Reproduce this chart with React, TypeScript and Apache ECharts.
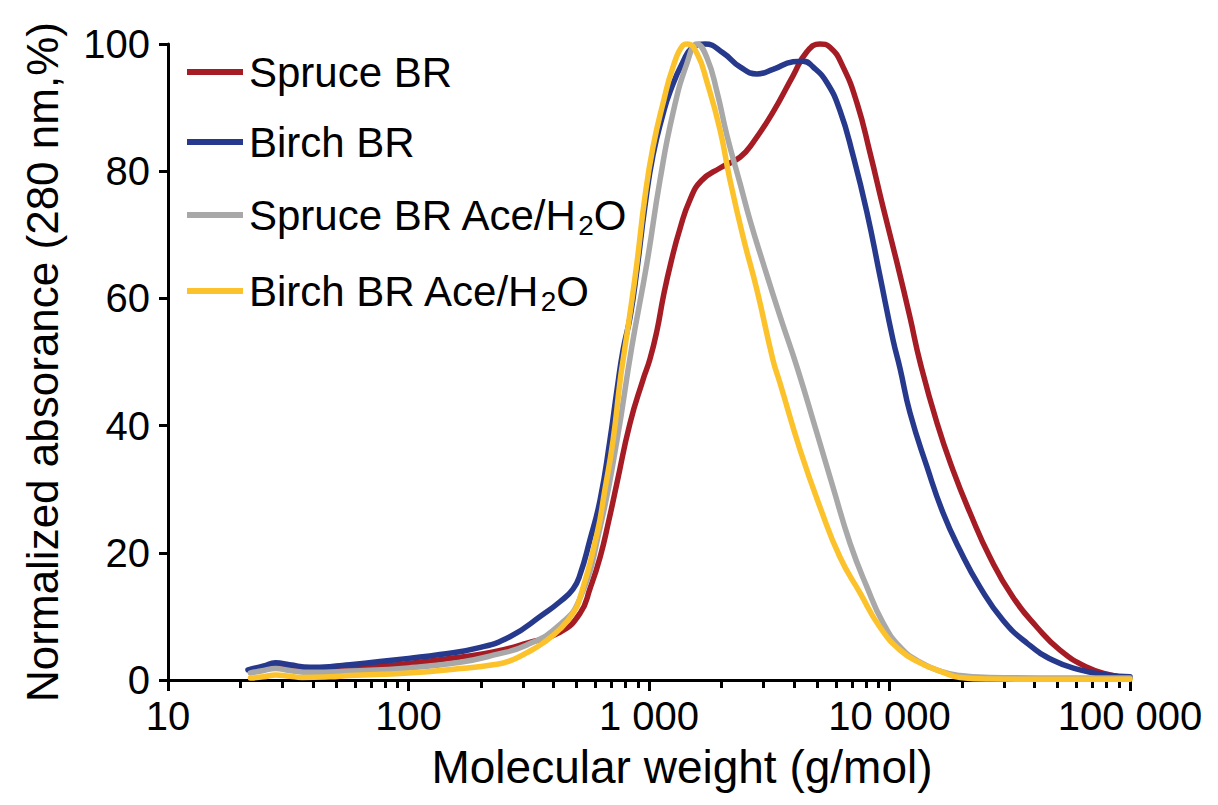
import React, { useEffect, useRef } from 'react';
import * as echarts from 'echarts';

const seriesNames = ['Spruce BR', 'Birch BR', 'Spruce BR Ace/H2O', 'Birch BR Ace/H2O'];
const seriesColors = ['#A51C24', '#26398C', '#A8A8A8', '#FCC22C'];
const xTickLabels = ['10', '100', '1 000', '10 000', '100 000'];
const yTicks = [0, 20, 40, 60, 80, 100];

const spruceBR: [number, number][] = [
  [22, 1.3], [25, 1.6], [28, 2.0], [32, 1.8], [36, 1.4], [47, 1.6], [57, 1.9], [76, 2.2], [100, 2.6],
  [164, 3.6], [225, 4.4], [311, 5.8], [426, 7.5], [517, 10.5], [570, 14.5], [626, 19.3], [680, 25],
  [736, 31], [834, 40.4], [944, 47.2], [1010, 50.5], [1080, 55], [1150, 60.5], [1240, 66], [1346, 71],
  [1480, 75.5], [1650, 78.5], [1974, 80.5], [2390, 82.2], [2706, 84.5], [3278, 89.3], [3970, 95],
  [4540, 98.8], [5140, 100], [5656, 99.5], [6409, 96.4], [7327, 90.7], [8297, 82.9], [9397, 74.4],
  [10745, 65.6], [12170, 57], [13394, 50], [15760, 40.4], [18365, 33], [21610, 26.3], [26170, 19.3],
  [32620, 13], [41050, 8.3], [51160, 4.7], [66270, 2.0], [82590, 0.8], [100000, 0.3],
];

const birchBR: [number, number][] = [
  [21.5, 1.6], [25, 2.2], [28, 2.7], [32, 2.4], [39, 2.0], [47, 2.1], [57, 2.4], [76, 2.9], [100, 3.4],
  [135, 4.0], [193, 5.0], [264, 6.8], [362, 10.3], [426, 12.3], [483, 14.3], [517, 16.6], [568, 22],
  [626, 28.3], [688, 37.7], [736, 45.6], [780, 51.9], [834, 57], [891, 64.5], [962, 74.5], [1039, 82.5],
  [1144, 89], [1223, 92.5], [1385, 97.2], [1524, 99.5], [1709, 100], [2032, 98.6], [2390, 96.4],
  [2812, 95.3], [3278, 96], [3970, 97.2], [4369, 97.3], [4808, 96.4], [5497, 93.9], [6227, 89.5],
  [7051, 82.5], [8062, 73.5], [9130, 63.5], [10340, 53.5], [11060, 49], [12170, 42], [14320, 33.5],
  [16690, 26.3], [19640, 20.4], [23785, 14.6], [29640, 9.4], [37300, 5.8], [47840, 3.1], [61960, 1.6],
  [80240, 0.8], [100000, 0.5],
];

const spruceAce: [number, number][] = [
  [22, 1.1], [25, 1.5], [28, 1.8], [32, 1.5], [39, 1.2], [57, 1.4], [100, 1.9], [164, 2.8], [225, 3.9],
  [311, 5.5], [426, 8.7], [517, 12.9], [626, 24], [736, 37.7], [845, 52], [981, 65.6], [1111, 78.6],
  [1259, 89.2], [1439, 97], [1584, 100], [1743, 97.8], [1917, 92.5], [2110, 85.6], [2390, 78.1],
  [2630, 72.3], [2979, 65.6], [3505, 57.2], [4125, 49.2], [4994, 38.8], [5823, 30.3], [6852, 21.5],
  [8062, 14.6], [9397, 9], [11060, 5.2], [13394, 2.8], [16218, 1.4], [19640, 0.7], [26170, 0.4],
  [50000, 0.3], [100000, 0.3],
];

const birchAce: [number, number][] = [
  [22, 0.3], [25, 0.5], [28, 0.8], [32, 0.6], [36, 0.4], [47, 0.5], [57, 0.7], [100, 1.1], [164, 1.8],
  [225, 2.4], [264, 3.0], [311, 4.3], [362, 5.8], [426, 8], [483, 10.5], [517, 13], [608, 23], [656, 30],
  [709, 37.7], [758, 47], [780, 50.3], [834, 57.7], [891, 65.6], [962, 76], [1039, 83.8], [1144, 90.7],
  [1259, 96.4], [1385, 99.8], [1440, 100], [1584, 98.5], [1743, 94], [1974, 86.5], [2172, 78.6],
  [2460, 69.7], [2812, 61.3], [3278, 50.3], [3505, 46.7], [4246, 36.2], [5140, 27.2], [6227, 19.3],
  [7542, 13.7], [9130, 8.3], [11060, 4.7], [13394, 2.7], [16218, 1.4], [19640, 0.4], [26170, 0.15],
  [50000, 0.1], [100000, 0.1],
];

const seriesData = [spruceBR, birchBR, spruceAce, birchAce];

const FONT = '"Liberation Sans", Arial, Helvetica, sans-serif';

export default function App() {
  const ref = useRef<HTMLDivElement>(null);

  useEffect(() => {
    if (!ref.current) return;
    const chart = echarts.init(ref.current, undefined, { renderer: 'svg' });

    const option: any = {
      animation: false,
      backgroundColor: '#ffffff',
      textStyle: { fontFamily: FONT, color: '#000' },
      grid: { left: 168, right: 88, top: 44, bottom: 125 },
      legend: {
        orient: 'vertical',
        left: 182,
        top: 46,
        itemWidth: 56,
        itemHeight: 6,
        itemGap: 28,
        icon: 'rect',
        data: seriesNames,
        formatter: (name: string) => {
          const m = name.match(/^(.*H)2(O)$/);
          if (m) return `{f|${m[1]}}{s|2}{a|${m[2]}}`;
          return `{f|${name}}`;
        },
        textStyle: {
          fontFamily: FONT,
          color: '#000',
          fontSize: 42,
          rich: {
            f: { fontFamily: FONT, fontSize: 42, lineHeight: 44, color: '#000', padding: [0, 0, 0, 1] },
            a: { fontFamily: FONT, fontSize: 42, lineHeight: 44, color: '#000' },
            s: { fontFamily: FONT, fontSize: 28, lineHeight: 24, color: '#000', padding: [20, 0, 0, 0] },
          },
        },
      },
      xAxis: {
        type: 'log',
        logBase: 10,
        min: 10,
        max: 100000,
        name: 'Molecular weight (g/mol)',
        nameLocation: 'middle',
        nameGap: 64,
        nameTextStyle: { fontFamily: FONT, fontSize: 46, color: '#000', padding: [0, 0, 0, 66] },
        axisLine: { show: true, onZero: false, lineStyle: { color: '#000', width: 3 } },
        axisTick: { show: true, length: 11, lineStyle: { color: '#000', width: 3 } },
        minorTick: { show: true, splitNumber: 9, length: 8, lineStyle: { color: '#000', width: 3 } },
        splitLine: { show: false },
        axisLabel: {
          fontFamily: FONT,
          fontSize: 40,
          color: '#000',
          margin: 16,
          formatter: (v: number) => {
            const i = Math.round(Math.log10(v)) - 1;
            return xTickLabels[i] ?? String(v);
          },
        },
      },
      yAxis: {
        type: 'value',
        min: yTicks[0],
        max: yTicks[yTicks.length - 1],
        interval: 20,
        name: 'Normalized absorance (280 nm,%)',
        nameLocation: 'middle',
        nameGap: 104,
        nameTextStyle: { fontFamily: FONT, fontSize: 44, color: '#000' },
        axisLine: { show: true, onZero: false, lineStyle: { color: '#000', width: 3 } },
        axisTick: { show: true, length: 9, lineStyle: { color: '#000', width: 3 } },
        splitLine: { show: false },
        axisLabel: { fontFamily: FONT, fontSize: 40, color: '#000', margin: 18 },
      },
      series: seriesNames.map((name, i) => ({
        name,
        type: 'line',
        data: seriesData[i],
        smooth: 0.5,
        symbol: 'none',
        clip: false,
        color: seriesColors[i],
        lineStyle: { color: seriesColors[i], width: 5.5, cap: 'round', join: 'round' },
        z: 2 + i,
      })),
    };

    chart.setOption(option);
    return () => {
      chart.dispose();
    };
  }, []);

  return (
    <div
      ref={ref}
      style={{ position: 'fixed', left: 0, top: 0, width: 1218, height: 805, background: '#fff' }}
    />
  );
}
